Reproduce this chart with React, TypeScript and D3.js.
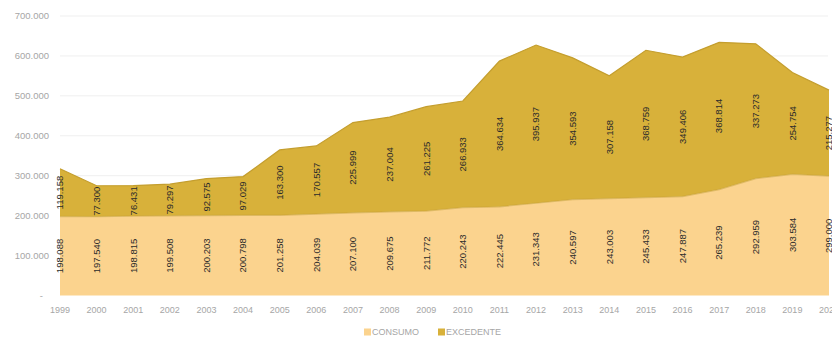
import React from "react";
import * as d3 from "d3";

const years = [1999,2000,2001,2002,2003,2004,2005,2006,2007,2008,2009,2010,2011,2012,2013,2014,2015,2016,2017,2018,2019,2020];
const consumo = [198088,197540,198815,199508,200203,200798,201258,204039,207100,209675,211772,220243,222445,231343,240597,243003,245433,247887,265239,292959,303584,299000];
const excedente = [119158,77300,76431,79297,92575,97029,163300,170557,225999,237004,261225,266933,364634,395937,354593,307158,368759,349406,368814,337273,254754,215277];
const yTicks = [0,100000,200000,300000,400000,500000,600000,700000];
const seriesNames = ["CONSUMO","EXCEDENTE"];
const colors = ["#FBD38E","#D8B13A"];

const W = 832, H = 339;
const FONT = "'Liberation Sans', Arial, sans-serif";

const fmt = (v: number) => {
  const s = Math.round(v).toString();
  return s.replace(/\B(?=(\d{3})+(?!\d))/g, ".");
};

export default function App() {
  const x = d3.scalePoint<number>().domain(years).range([60, 829]);
  const y = d3.scaleLinear().domain([0, 700000]).range([295.5, 16]);
  const rows = years.map((yr, i) => ({ year: yr, consumo: consumo[i], excedente: excedente[i] }));
  const stack = d3.stack<any>().keys(["consumo", "excedente"]);
  const series = stack(rows);
  const area = d3.area<any>()
    .x((d: any) => x(d.data.year) as number)
    .y0((d: any) => y(d[0]))
    .y1((d: any) => y(d[1]));
  const line = d3.line<any>()
    .x((d: any) => x(d.data.year) as number)
    .y((d: any) => y(d[1]));

  return (
    <svg width={W} height={H} style={{ position: "absolute", left: 0, top: 0, background: "#fff" }} fontFamily={FONT}>
      {yTicks.filter(t => t > 0).map(t => (
        <line key={"g" + t} x1={60} x2={828} y1={y(t)} y2={y(t)} stroke="#efefef" strokeWidth={1} />
      ))}
      {yTicks.map(t => (
        <text key={"yt" + t} x={t === 0 ? 43 : 49} y={y(t)} dy="0.35em" textAnchor="end" fontSize={9.5} fill="#a6a6a6">
          {t === 0 ? "-" : fmt(t)}
        </text>
      ))}
      {series.map((s, i) => (
        <path key={"a" + i} d={area(s as any) || ""} fill={colors[i]} />
      ))}
      <path d={line(series[0] as any) || ""} fill="none" stroke="#C9A23A" strokeWidth={1.5} opacity={0.5} />
      <path d={line(series[1] as any) || ""} fill="none" stroke="#C49E2E" strokeWidth={1.2} />
      {series.map((s, i) =>
        s.map((d: any, j: number) => {
          const cx = x(d.data.year) as number;
          const cy = (y(d[0]) + y(d[1])) / 2;
          const v = i === 0 ? consumo[j] : excedente[j];
          return (
            <text key={"l" + i + "-" + j} transform={`translate(${cx},${cy}) rotate(-90)`} textAnchor="middle" dy="0.35em" fontSize={9.5} fill="#2b2b2b">
              {fmt(v)}
            </text>
          );
        })
      )}
      {years.map(yr => (
        <text key={"x" + yr} x={x(yr) as number} y={310} dy="0.35em" textAnchor="middle" fontSize={9} fill="#a6a6a6">
          {yr}
        </text>
      ))}
      {seriesNames.map((n, i) => {
        const lx = i === 0 ? 364 : 438;
        return (
          <g key={"lg" + n}>
            <rect x={lx} y={328.5} width={7} height={7} fill={colors[i]} />
            <text x={lx + 8} y={332} dy="0.35em" fontSize={9} fill="#a6a6a6">{n}</text>
          </g>
        );
      })}
    </svg>
  );
}
